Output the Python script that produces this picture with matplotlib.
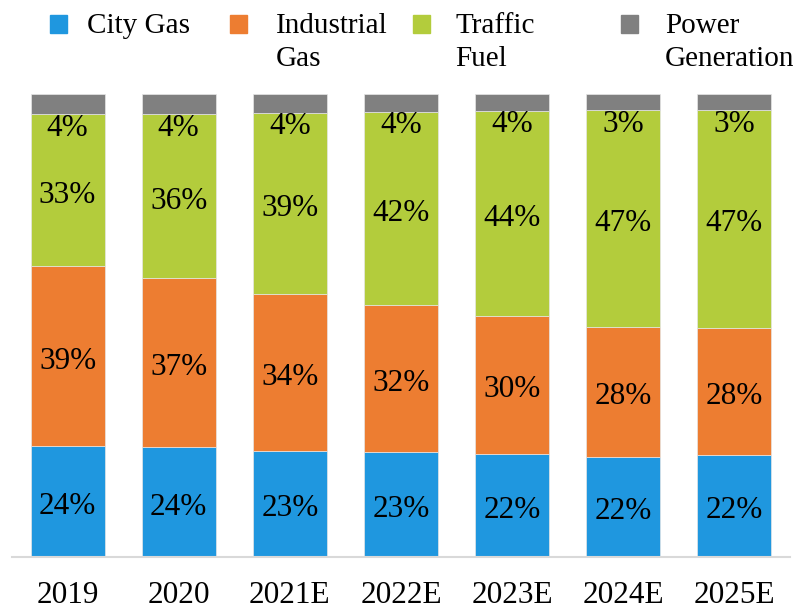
import matplotlib
matplotlib.use("Agg")
import matplotlib.pyplot as plt
from matplotlib.patches import Rectangle
import numpy as np

plt.rcParams['font.family'] = ['Liberation Serif', 'DejaVu Serif']

categories = ["2019", "2020", "2021E", "2022E", "2023E", "2024E", "2025E"]
series_names = [["City Gas"], ["Industrial", "Gas"], ["Traffic", "Fuel"], ["Power", "Generation"]]
city_gas = [23.9, 23.7, 23.0, 22.7, 22.3, 21.7, 22.1]
industrial_gas = [38.9, 36.5, 33.9, 31.8, 29.8, 28.0, 27.5]
traffic_fuel = [32.9, 35.5, 39.1, 41.7, 44.3, 46.8, 47.0]
power_generation = [4.3, 4.3, 4.0, 3.8, 3.6, 3.5, 3.4]
city_gas_labels = [24, 24, 23, 23, 22, 22, 22]
industrial_gas_labels = [39, 37, 34, 32, 30, 28, 28]
traffic_fuel_labels = [33, 36, 39, 42, 44, 47, 47]
power_generation_labels = [4, 4, 4, 4, 4, 3, 3]
colors = ["#1F97DF", "#ED7D31", "#B3CC3C", "#808080"]

W, H = 797, 609
fig = plt.figure(figsize=(W / 100, H / 100), dpi=100)
ax = fig.add_axes([12 / W, 1 - 557 / H, 778 / W, (557 - 94.3) / H])

x = np.arange(len(categories))
series = [city_gas, industrial_gas, traffic_fuel, power_generation]
labels = [city_gas_labels, industrial_gas_labels, traffic_fuel_labels, power_generation_labels]
bottom = np.zeros(len(categories))
FS = 22.5
LFS = 21
for i, (vals, labs) in enumerate(zip(series, labels)):
    vals = np.array(vals)
    ax.bar(x, vals, width=0.665, bottom=bottom, color=colors[i],
           edgecolor="#e6e6e6", linewidth=0.5)
    for xi, b, v, lab in zip(x, bottom, vals, labs):
        if i < 3:
            ax.annotate(f"{lab}%", xy=(xi, b + v / 2), xytext=(0, -5),
                        textcoords="offset pixels", ha="center", va="center",
                        fontsize=FS, color="black")
        else:
            ax.annotate(f"{lab}%", xy=(xi, b), xytext=(0, -14),
                        textcoords="offset pixels", ha="center", va="center",
                        fontsize=FS, color="black")
    bottom = bottom + vals

ax.set_xlim(-0.5, 6.5)
ax.set_ylim(0, 100)
ax.set_xticks(x)
ax.set_xticklabels(categories, fontsize=FS)
ax.tick_params(axis="x", length=0, pad=17)
ax.set_yticks([])
for s in ["top", "right", "left"]:
    ax.spines[s].set_visible(False)
ax.spines["bottom"].set_color("#d9d9d9")
ax.spines["bottom"].set_linewidth(1.5)

# legend (manual, markers aligned with first text line)
marker_x = [50, 230, 413, 621]
text_x = [87, 276, 455, 665]
for mx, tx, lines, c in zip(marker_x, text_x, series_names, colors):
    fig.patches.append(Rectangle((mx / W, 1 - 33 / H), 17 / W, 18 / H,
                                 transform=fig.transFigure, color=c))
    for k, line in enumerate(lines):
        fig.text(tx / W, 1 - (33 + 33 * k) / H, line, ha="left", va="baseline",
                 fontsize=LFS)

fig.savefig("out.png", dpi=100)
